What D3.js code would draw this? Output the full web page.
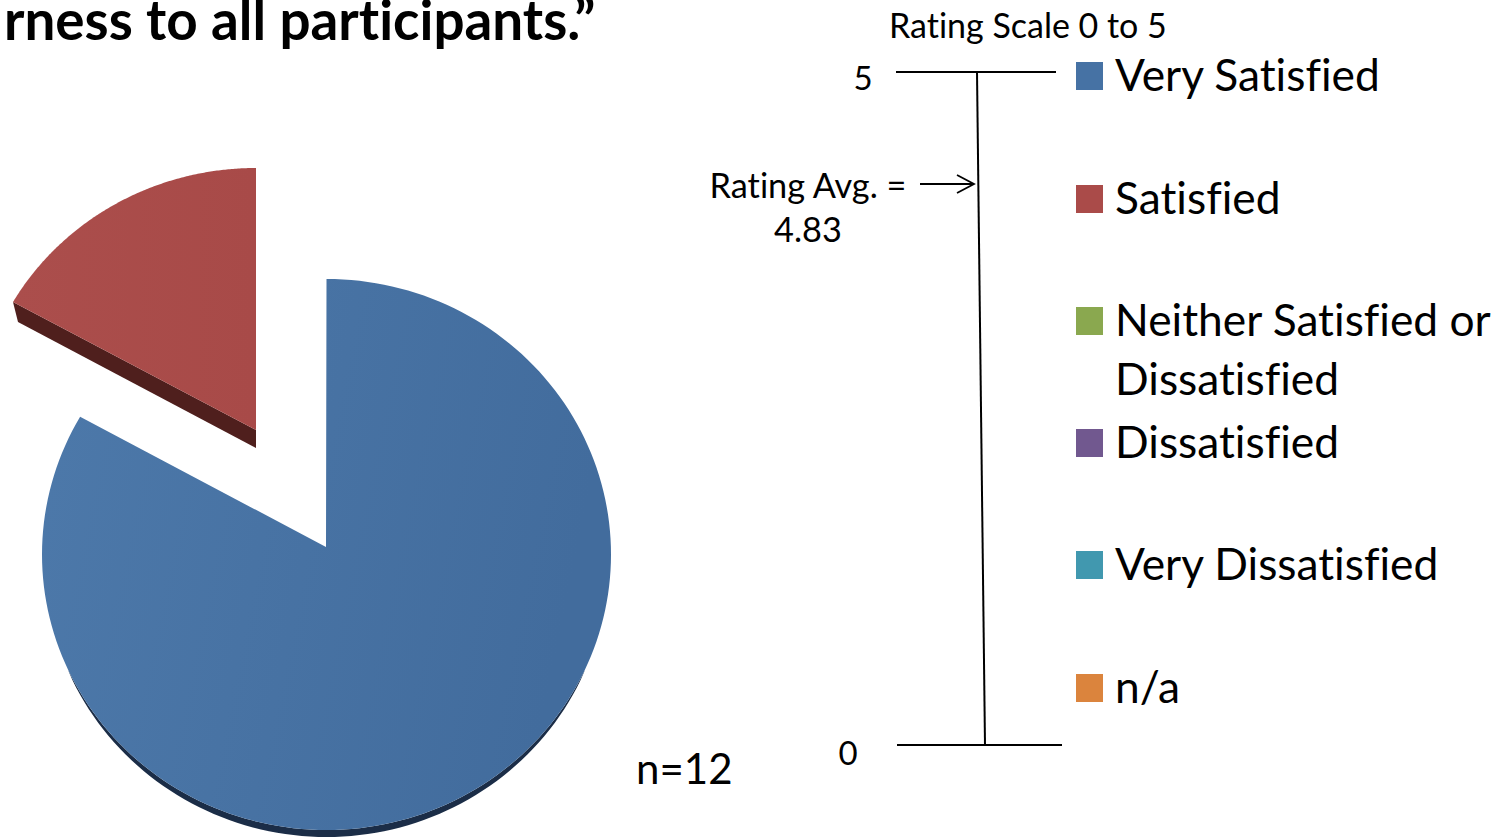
<!DOCTYPE html>
<html><head><meta charset="utf-8">
<script src="https://cdn.jsdelivr.net/npm/d3@7"></script>
<style>html,body{margin:0;padding:0;background:#fff;overflow:hidden}svg{display:block}text{font-family:Lato,"Open Sans",sans-serif;fill:#000;font-variant-ligatures:none}</style>
</head><body><svg id="c" width="1511" height="837"></svg>
<script>
const categories=["Very Satisfied","Satisfied","Neither Satisfied or Dissatisfied","Dissatisfied","Very Dissatisfied","n/a"];
const values=[10,2,0,0,0,0];
const colors=["#4672a4","#aa4b49","#8aa84f","#71588f","#4198af","#db843d"];
const sideColors=["#1b2d47","#4f1f1d"];
const legendLines=[["Very Satisfied"],["Satisfied"],["Neither Satisfied or","Dissatisfied"],["Dissatisfied"],["Very Dissatisfied"],["n/a"]];
const legendY=[76,199,321,443,565,688];
const scaleTicks=[0,5];
const titleText="rness to all participants.”";
const scaleTitle="Rating Scale 0 to 5";
const avgLines=["Rating Avg. =","4.83"];
const sampleText="n=12";

const svg=d3.select("#c");
const defs=svg.append("defs");
const g0=defs.append("linearGradient").attr("id","gb").attr("x1","0").attr("x2","1").attr("y1","0").attr("y2","0.2");
g0.append("stop").attr("offset","0").attr("stop-color","#4d79aa");
g0.append("stop").attr("offset","1").attr("stop-color","#426c9d");
const g1=defs.append("linearGradient").attr("id","gr").attr("x1","0").attr("x2","1").attr("y1","0").attr("y2","0");
g1.append("stop").attr("offset","0").attr("stop-color","#ab4e4c");
g1.append("stop").attr("offset","1").attr("stop-color","#a84a48");

// pie
const arcs=d3.pie().sort(null)(values);
const ell=(cx,cy,rx,ry)=>(a)=>[cx+rx*Math.sin(a),cy-ry*Math.cos(a)];
const P=ell(326.5,554.5,284.5,275.5),apex=[326,547];
const R=ell(256,436,280.6,268),redApex=[256,430];
const line=d3.line();
const samples=(a0,a1)=>d3.range(0,181).map(i=>a0+(a1-a0)*i/180);

// Blue
{
 const a=arcs[0];
 const rim=samples(a.startAngle,a.endAngle).map(P);
 const lo=samples(a.startAngle,a.endAngle).filter(t=>-Math.cos(t)>0.42);
 const top=lo.map(P);
 const bot=lo.map(t=>{const p=P(t);const f=(-Math.cos(t)-0.42)/0.58;return [p[0],p[1]+7*Math.pow(f,0.5)];}).reverse();
 svg.append("path").attr("d",line(top.concat(bot))+"Z").attr("fill",sideColors[0]);
 svg.append("path").attr("d",line([apex].concat(rim))+"Z").attr("fill","url(#gb)");
}
// Red, exploded
{
 const a=arcs[1],depth=18;
 const rim=samples(a.startAngle,a.endAngle).map(R);
 const start=rim[0];
 svg.append("path").attr("d",line([start,[start[0]+5,start[1]+20],[redApex[0],redApex[1]+depth],redApex])+"Z").attr("fill",sideColors[1]);
 svg.append("path").attr("d",line([redApex].concat(rim))+"Z").attr("fill","url(#gr)");
}

// title
svg.append("text").attr("x",4).attr("y",40).attr("font-size",54.8).attr("font-weight",700).text(titleText);
svg.append("text").attr("x",636).attr("y",784).attr("font-size",42).text(sampleText);

// scale
const yS=d3.scaleLinear().domain([0,5]).range([745,72]);
const xS=d3.scaleLinear().domain([0,5]).range([985,977]);
const tickX={0:[897,1062],5:[896,1056]};
const tickLabel={0:[848,765],5:[863,90]};
svg.append("text").attr("x",889).attr("y",37.5).attr("font-size",34).text(scaleTitle);
scaleTicks.forEach(t=>{
 svg.append("line").attr("x1",tickX[t][0]).attr("x2",tickX[t][1]).attr("y1",yS(t)).attr("y2",yS(t)).attr("stroke","#000").attr("stroke-width",2);
 svg.append("text").attr("x",tickLabel[t][0]).attr("y",tickLabel[t][1]).attr("text-anchor","middle").attr("font-size",33).text(t);
});
svg.append("line").attr("x1",xS(5)).attr("x2",xS(0)).attr("y1",yS(5)).attr("y2",yS(0)).attr("stroke","#000").attr("stroke-width",2);

// avg annotation
avgLines.forEach((s,i)=>svg.append("text").attr("x",808).attr("y",198+i*43.5).attr("text-anchor","middle").attr("font-size",34.3).text(s));
const ay=184;
svg.append("path").attr("d",`M920 ${ay}H974M957 ${ay-9}L974 ${ay}L957 ${ay+9}`).attr("fill","none").attr("stroke","#000").attr("stroke-width",1.8);

// legend
categories.forEach((c,i)=>{
 svg.append("rect").attr("x",1076).attr("y",legendY[i]-14).attr("width",27).attr("height",28).attr("fill",colors[i]);
 legendLines[i].forEach((s,j)=>svg.append("text").attr("x",1115).attr("y",legendY[i]+15+j*59).attr("font-size",44.3).text(s));
});
</script></body></html>
